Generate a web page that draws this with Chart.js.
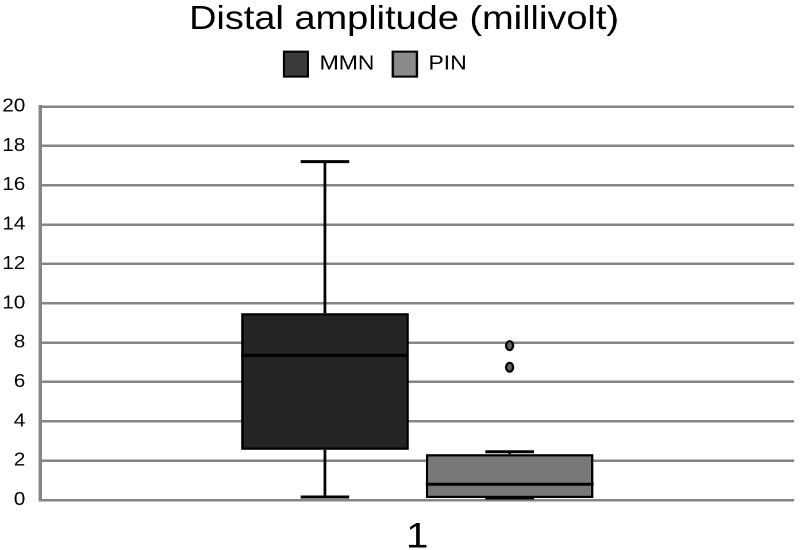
<!DOCTYPE html>
<html>
<head>
<meta charset="utf-8">
<script src="https://cdn.jsdelivr.net/npm/chart.js@4.4.1/dist/chart.umd.min.js"></script>
<style>
html,body{margin:0;padding:0;background:#fff;overflow:hidden;}
#c{display:block;}
</style>
</head>
<body>
<canvas id="c" width="696" height="550" style="width:800px;height:550px;"></canvas>
<script>
const categories = ['1'];
const seriesNames = ['MMN', 'PIN'];
const mins = [0.15, 0.1];
const q1s = [2.55, 0.1];
const medians = [7.35, 0.8];
const q3s = [9.5, 2.33];
const maxs = [17.2, 2.45];
const outliers = [[], [7.85, 6.75]];
const fills = ['#242424', '#787878'];
const legendFills = ['#3a3a3a', '#8a8a8a'];
const yTicks = [0, 2, 4, 6, 8, 10, 12, 14, 16, 18, 20];

const FONT = 'Liberation Sans, Arial, Helvetica, sans-serif';

const boxPlugin = {
  id: 'boxExtras',
  afterDatasetsDraw(chart) {
    const ctx = chart.ctx;
    const ys = chart.scales.y;
    chart.data.datasets.forEach((ds, i) => {
      const meta = chart.getDatasetMeta(i);
      meta.data.forEach((bar) => {
        const x = bar.x, w = bar.width;
        const yMin = ys.getPixelForValue(mins[i]);
        const yQ1 = ys.getPixelForValue(q1s[i]);
        const yMed = ys.getPixelForValue(medians[i]);
        const yQ3 = ys.getPixelForValue(q3s[i]);
        const yMax = ys.getPixelForValue(maxs[i]);
        const cap = w * 0.29;
        ctx.save();
        ctx.strokeStyle = '#000';
        ctx.lineWidth = 2.4;
        ctx.beginPath();
        ctx.moveTo(x, yQ3); ctx.lineTo(x, yMax);
        ctx.moveTo(x, yQ1); ctx.lineTo(x, yMin);
        ctx.stroke();
        ctx.lineWidth = 3;
        ctx.beginPath();
        ctx.moveTo(x - cap / 2, yMax); ctx.lineTo(x + cap / 2, yMax);
        ctx.moveTo(x - cap / 2, yMin); ctx.lineTo(x + cap / 2, yMin);
        ctx.stroke();
        ctx.beginPath();
        ctx.lineWidth = 3;
        ctx.moveTo(x - w / 2, yMed); ctx.lineTo(x + w / 2, yMed);
        ctx.stroke();
        outliers[i].forEach(v => {
          const yo = ys.getPixelForValue(v);
          ctx.beginPath();
          ctx.ellipse(x, yo, 3, 4.5, 0, 0, Math.PI * 2);
          ctx.fillStyle = '#666';
          ctx.fill();
          ctx.lineWidth = 2;
          ctx.stroke();
        });
        ctx.restore();
      });
    });
  }
};

const layoutTweaks = {
  id: 'layoutTweaks',
  beforeInit(chart) {
    const legend = chart.legend;
    const origFit = legend.fit;
    legend.fit = function () {
      origFit.call(this);
      this.height += 20;
    };
  },
  afterLayout(chart) {
    if (chart.legend) { chart.legend.left -= 19; chart.legend.right -= 19; }
    if (chart.titleBlock) { chart.titleBlock.left += 6; chart.titleBlock.right += 6; }
  }
};

const datasets = seriesNames.map((name, i) => ({
  label: name,
  data: [[q1s[i], q3s[i]]],
  backgroundColor: fills[i],
  borderColor: '#000',
  borderWidth: 2.4,
  borderSkipped: false,
  categoryPercentage: 0.49,
  barPercentage: 0.908
}));

new Chart(document.getElementById('c'), {
  type: 'bar',
  data: { labels: categories, datasets },
  plugins: [boxPlugin, layoutTweaks],
  options: {
    responsive: false,
    animation: false,
    devicePixelRatio: 2,
    layout: { padding: { left: 0, right: 5, top: 0, bottom: 0 } },
    plugins: {
      tooltip: { enabled: false },
      title: {
        display: true,
        text: 'Distal amplitude (millivolt)',
        color: '#000',
        font: { family: FONT, size: 33, weight: 'normal' },
        padding: { top: 0, bottom: -4 }
      },
      legend: {
        display: true,
        labels: {
          color: '#000',
          font: { family: FONT, size: 20 },
          boxWidth: 21,
          boxHeight: 25,
          padding: 16,
          generateLabels() {
            return seriesNames.map((n, i) => ({
              text: n,
              fillStyle: legendFills[i],
              strokeStyle: '#000',
              lineWidth: 2,
              datasetIndex: i,
              hidden: false
            }));
          }
        }
      }
    },
    scales: {
      x: {
        grid: { display: false, drawTicks: false },
        border: { display: false },
        afterFit(scale) { scale.height = 50; },
        ticks: {
          color: '#000',
          font: { family: FONT, size: 35, lineHeight: 0.8 },
          padding: 24
        }
      },
      y: {
        min: 0,
        max: 20,
        afterBuildTicks(scale) { scale.ticks = yTicks.map(v => ({ value: v })); },
        afterFit(scale) { scale.width = 35; },
        grid: { color: '#858585', lineWidth: 2.5, drawTicks: false },
        border: { display: true, color: '#858585', width: 3 },
        ticks: {
          color: '#000',
          font: { family: FONT, size: 18 },
          padding: 13
        }
      }
    }
  }
});
</script>
</body>
</html>
